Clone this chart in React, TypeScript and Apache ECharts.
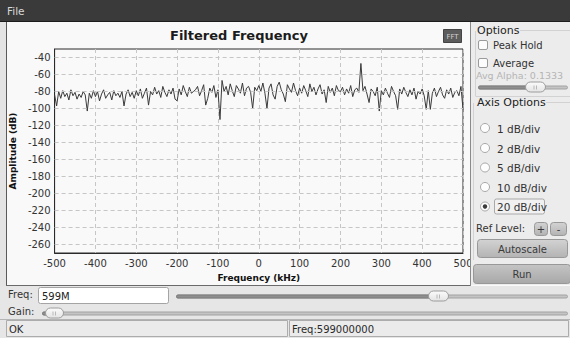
import React, { useEffect, useRef } from "react";
import * as echarts from "echarts";

// ---- data ----
const FREQ_START_KHZ = -500;
const FREQ_STEP_KHZ = 5;
const AMPLITUDE_DB = [
  -84, -97, -80, -88, -79, -86, -82, -90, -78, -85, -81, -89, -83, -87, -80, -84, -103, -82, -88, -79,
  -86, -80, -91, -83, -78, -88, -84, -81, -90, -79, -85, -82, -87, -80, -97, -83, -78, -86, -81, -88,
  -79, -85, -77, -88, -82, -76, -96, -80, -84, -75, -83, -79, -87, -74, -81, -86, -78, -83, -76, -89,
  -91, -77, -84, -73, -80, -86, -75, -82, -80, -78, -74, -85, -79, -72, -96, -88, -76, -81, -73, -87,
  -78, -113, -67, -80, -74, -84, -71, -79, -86, -73, -77, -82, -70, -85, -76, -74, -81, -100, -75, -79,
  -73, -80, -70, -82, -100, -76, -71, -84, -89, -74, -69, -78, -83, -92, -72, -77, -81, -70, -79, -85,
  -76, -82, -73, -79, -86, -71, -80, -75, -84, -77, -72, -83, -78, -93, -74, -81, -76, -85, -73, -79,
  -80, -75, -84, -77, -82, -73, -86, -78, -76, -81, -47, -79, -74, -83, -93, -77, -80, -85, -75, -103,
  -79, -84, -76, -82, -87, -74, -80, -85, -101, -77, -83, -75, -81, -86, -78, -84, -76, -89, -80, -83,
  -77, -85, -101, -79, -101, -82, -76, -86, -80, -75, -84, -88, -78, -83, -76, -87, -81, -79, -85, -74,
  -101,
];
const X_MIN = -500;
const X_MAX = 500;
const X_INTERVAL = 100;
const Y_MIN = -270;
const Y_MAX = -30;
const Y_GRID_DB = [-260, -240, -220, -200, -180, -160, -140, -120, -100, -80, -60, -40];
const AXIS_DIV_OPTIONS = ["1 dB/div", "2 dB/div", "5 dB/div", "10 dB/div", "20 dB/div"];
const SELECTED_DIV = "20 dB/div";
const TITLE = "Filtered Frequency";
const FREQ_TEXT = "599M";
const STATUS_LEFT = "OK";
const STATUS_RIGHT = "Freq:599000000";
const AVG_ALPHA = "Avg Alpha: 0.1333";

const FONT = "DejaVu Sans";

function txt(x: number, y: number, text: string, o: any = {}) {
  return {
    type: "text",
    x,
    y,
    z: 120,
    silent: true,
    style: {
      text,
      fill: o.fill || "#333",
      fontSize: o.size || 10,
      fontFamily: FONT,
      fontWeight: o.weight || "normal",
      align: o.align || "left",
      textAlign: o.align || "left",
      verticalAlign: "middle",
      textVerticalAlign: "middle",
    },
  };
}

function rect(x: number, y: number, w: number, h: number, style: any, r = 0, z = 110) {
  return { type: "rect", z, silent: true, shape: { x, y, width: w, height: h, r }, style };
}

function line(x1: number, y1: number, x2: number, y2: number, stroke: string, z = 115) {
  return { type: "line", z, silent: true, shape: { x1, y1, x2, y2 }, style: { stroke, lineWidth: 1 } };
}

function grad(a: string, b: string) {
  return new echarts.graphic.LinearGradient(0, 0, 0, 1, [
    { offset: 0, color: a },
    { offset: 1, color: b },
  ]);
}

function button(x: number, y: number, w: number, h: number, label: string, a = "#d3d3d3", b = "#b3b3b3") {
  return [
    rect(x + 0.5, y + 0.5, w, h, { fill: grad(a, b), stroke: "#989898", lineWidth: 1 }, 3, 115),
    txt(x + w / 2 + 0.5, y + h / 2 + 1, label, { align: "center", fill: "#3a3a3a" }),
  ];
}

function slider(x1: number, x2: number, y: number, hx: number, hw = 20) {
  return [
    rect(x1 + 0.5, y - 1.5, x2 - x1, 3, { fill: "#c4c4c4", stroke: "#a2a2a2", lineWidth: 1 }, 1.5, 112),
    rect(x1 + 0.5, y - 1.5, hx - x1 + 4, 3, { fill: "#8e8e8e", stroke: "#7c7c7c", lineWidth: 1 }, 1.5, 113),
    rect(hx + 0.5, y - 5.5, hw, 10, { fill: grad("#fbfbfb", "#e4e4e4"), stroke: "#9c9c9c", lineWidth: 1 }, 5, 116),
    line(hx + hw / 2 - 1, y - 2, hx + hw / 2 - 1, y + 2, "#b8b8b8", 117),
    line(hx + hw / 2 + 1.5, y - 2, hx + hw / 2 + 1.5, y + 2, "#b8b8b8", 117),
  ];
}

function buildGraphics() {
  const g: any[] = [];
  // left strip outside plot widget
  g.push(rect(0, 21, 6, 266, { fill: "#e4e4e4" }, 0, 100));
  // menu bar
  g.push(rect(0, 0, 570, 21, { fill: "#3a3a3a" }, 0, 100));
  g.push(line(0, 21.5, 570, 21.5, "#1c1c1c"));
  g.push(txt(7, 11, "File", { fill: "#d8d8d8", size: 10.5 }));
  // plot widget frame
  g.push(line(6.5, 22, 6.5, 286, "#5a5a5a"));
  g.push(line(6, 285.5, 471, 285.5, "#6a6a6a"));
  g.push(line(470.5, 22, 470.5, 286, "#8a8a8a"));
  // title + FFT badge
  g.push(txt(239, 35, TITLE, { size: 13, weight: "bold", align: "center", fill: "#1c1c1c" }));
  g.push(rect(443.5, 29.5, 18, 13, { fill: "#5c5c5c", stroke: "#444", lineWidth: 1 }, 0, 110));
  g.push(txt(452.5, 36.5, "FFT", { size: 7, align: "center", fill: "#d0d0d0" }));

  // right panel
  g.push(rect(471, 22, 99, 263, { fill: "#ececec" }, 0, 100));
  // options group box
  g.push(line(475.5, 31, 475.5, 96, "#d2d2d2"));
  g.push(line(520, 30.5, 570, 30.5, "#d2d2d2"));
  g.push(line(475.5, 96.5, 570, 96.5, "#d2d2d2"));
  g.push(txt(477, 30.5, "Options", { size: 11, fill: "#222" }));
  g.push(rect(478.5, 40.5, 9, 9, { fill: "#fcfcfc", stroke: "#9a9a9a", lineWidth: 1 }, 1.5, 112));
  g.push(txt(493, 45, "Peak Hold"));
  g.push(rect(478.5, 58.5, 9, 9, { fill: "#fcfcfc", stroke: "#9a9a9a", lineWidth: 1 }, 1.5, 112));
  g.push(txt(493, 63, "Average"));
  g.push(txt(476, 75.5, AVG_ALPHA, { fill: "#b4b4b4", size: 9.5 }));
  g.push(...slider(478, 567, 87.5, 525));
  // axis options group
  g.push(line(473.5, 103, 473.5, 260, "#d2d2d2"));
  g.push(line(546, 102.5, 570, 102.5, "#d2d2d2"));
  g.push(txt(477, 102, "Axis Options", { size: 11, fill: "#222" }));
  const radioY = [128, 148, 167.5, 187, 206.5];
  AXIS_DIV_OPTIONS.forEach((label, i) => {
    const cy = radioY[i];
    g.push({ type: "circle", z: 112, silent: true, shape: { cx: 485, cy, r: 4.5 }, style: { fill: "#fdfdfd", stroke: "#a8a8a8", lineWidth: 1 } });
    if (label === SELECTED_DIV) {
      g.push({ type: "circle", z: 113, silent: true, shape: { cx: 485, cy, r: 2.2 }, style: { fill: "#3c3c3c" } });
      g.push(rect(494.5, cy - 7.5, 50, 15, { fill: "#f1f1f1", stroke: "#a9a9a9", lineWidth: 1 }, 2, 111));
    }
    g.push(txt(497, cy + 0.5, label, { size: 10.5 }));
  });
  g.push(txt(476, 228, "Ref Level:", { size: 10 }));
  g.push(...button(534, 222, 13, 13, "+"));
  g.push(...button(550, 222, 16, 13, "-"));
  g.push(...button(477, 239, 90, 18, "Autoscale"));
  g.push(...button(473, 264, 97, 19, "Run", "#c4c4c4", "#a8a8a8"));

  // bottom controls
  g.push(rect(0, 286, 570, 52, { fill: "#e6e6e6" }, 0, 100));
  g.push(txt(8, 294, "Freq:"));
  g.push(rect(38.5, 287.5, 130, 16, { fill: "#ffffff", stroke: "#a4a4a4", lineWidth: 1 }, 2, 112));
  g.push(txt(42, 296, FREQ_TEXT, { fill: "#222" }));
  g.push(...slider(176, 567, 296.5, 428));
  g.push(txt(8, 311.5, "Gain:"));
  g.push(...slider(42, 567, 313.5, 45, 18));
  g.push(line(0, 319.5, 570, 319.5, "#b4b4b4"));
  g.push(rect(6.5, 320.5, 281, 16, { fill: "#ebebeb", stroke: "#acacac", lineWidth: 1 }, 0, 112));
  g.push(txt(9, 329, STATUS_LEFT, { fill: "#2a2a2a" }));
  g.push(rect(289.5, 320.5, 279, 16, { fill: "#ebebeb", stroke: "#acacac", lineWidth: 1 }, 0, 112));
  g.push(txt(292, 329, STATUS_RIGHT, { fill: "#2a2a2a" }));
  return g;
}

export default function App() {
  const ref = useRef<HTMLDivElement>(null);
  useEffect(() => {
    if (!ref.current) return;
    const chart = echarts.init(ref.current, null, { renderer: "svg" });
    const points = AMPLITUDE_DB.map((v, i) => [FREQ_START_KHZ + i * FREQ_STEP_KHZ, v]);
    chart.setOption({
      animation: false,
      backgroundColor: "#f9f9f9",
      textStyle: { fontFamily: FONT },
      grid: {
        left: 50,
        top: 49,
        right: 107,
        bottom: 85,
        show: true,
        backgroundColor: "#f9f9f9",
        borderColor: "#2a2a2a",
        borderWidth: 1,
      },
      xAxis: {
        type: "value",
        min: X_MIN,
        max: X_MAX,
        interval: X_INTERVAL,
        name: "Frequency (kHz)",
        nameLocation: "middle",
        nameGap: 20,
        nameTextStyle: { fontWeight: "bold", fontSize: 9, color: "#111", fontFamily: FONT },
        axisLine: { show: true, onZero: false, lineStyle: { color: "#2a2a2a", width: 1 } },
        axisTick: { show: false },
        axisLabel: { color: "#333", fontSize: 10, margin: 5, showMinLabel: true, showMaxLabel: true, fontFamily: FONT },
        splitLine: { show: true, lineStyle: { color: "#c6c6c6", type: [4, 3], width: 1 } },
      },
      yAxis: {
        type: "value",
        min: Y_MIN,
        max: Y_MAX,
        interval: 10,
        name: "Amplitude (dB)",
        nameLocation: "middle",
        nameGap: 31,
        nameTextStyle: { fontWeight: "bold", fontSize: 9, color: "#111", fontFamily: FONT },
        axisLine: { show: true, onZero: false, lineStyle: { color: "#2a2a2a", width: 1 } },
        axisTick: { show: false },
        axisLabel: {
          color: "#333",
          fontSize: 10,
          margin: 4,
          fontFamily: FONT,
          formatter: (v: number) => (Y_GRID_DB.includes(v) ? String(v) : ""),
        },
        splitLine: { show: false },
      },
      series: [
        {
          type: "line",
          data: [],
          z: 1,
          silent: true,
          markLine: {
            silent: true,
            symbol: "none",
            label: { show: false },
            lineStyle: { color: "#c6c6c6", type: [4, 3], width: 1 },
            data: Y_GRID_DB.map((v) => ({ yAxis: v })),
          },
        },
        {
          type: "line",
          data: points,
          z: 3,
          showSymbol: false,
          symbol: "none",
          lineStyle: { color: "#3a3a3a", width: 1 },
        },
      ],
      graphic: { elements: buildGraphics() },
    });
    return () => chart.dispose();
  }, []);
  return (
    <div
      ref={ref}
      style={{ position: "fixed", left: 0, top: 0, width: 570, height: 338, background: "#f9f9f9" }}
    />
  );
}
